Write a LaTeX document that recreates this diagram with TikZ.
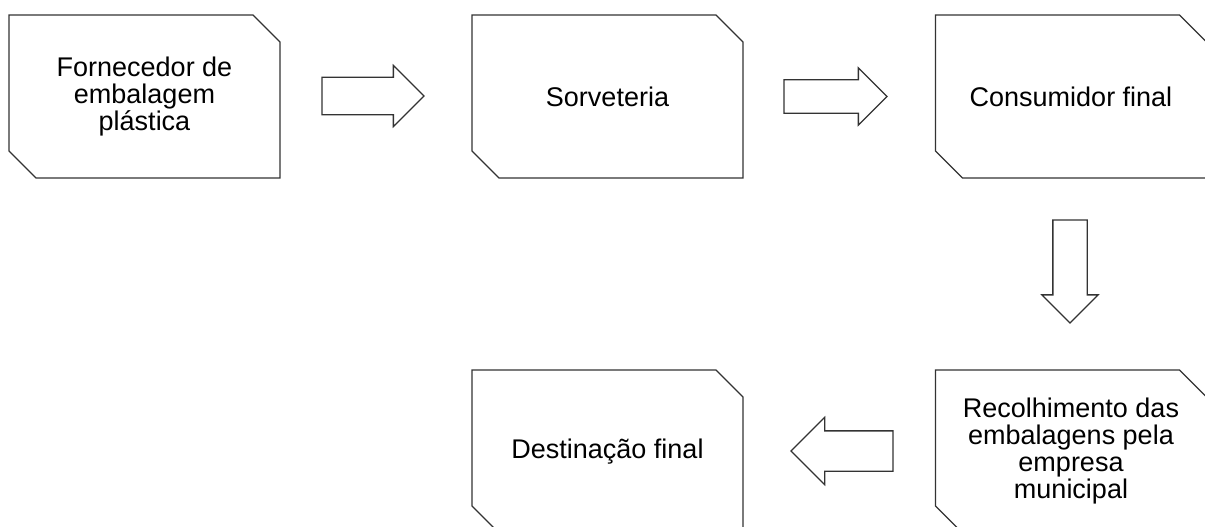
\documentclass[tikz,border=0pt]{standalone}
\usepackage{fontspec}
\setmainfont{Liberation Sans}
\usetikzlibrary{shapes.arrows}
\begin{document}
\begin{tikzpicture}[x=1pt,y=-1pt,
  blk/.style={rectangle, minimum width=271pt, minimum height=163pt, outer sep=0pt,
    inner sep=0pt, align=center, font=\fontsize{27}{27}\selectfont},
  outline/.style={draw=black!80, line width=1.3pt, line join=miter},
  barrow/.style={single arrow, draw=black!80, line width=1.3pt, outer sep=0pt,
    single arrow tip angle=90}]
\useasboundingbox (0,0) rectangle (1205,527);
\node[blk] (forn) at (144.5,96.5) {Fornecedor de\\embalagem\\plástica};
\node[blk] (sorv) at (607.5,96.5) {Sorveteria};
\node[blk] (cons) at (1071,96.5) {Consumidor final};
\node[blk] (recol) at (1071,451.5) {Recolhimento das\\embalagens pela\\empresa\\municipal};
\node[blk] (dest) at (607.5,451.5) {Destinação final};
\foreach \n in {forn,sorv,cons,recol,dest}{
  \draw[outline] (\n.north west) -- ([xshift=-27pt]\n.north east) -- ([yshift=-27pt]\n.north east)
    -- (\n.south east) -- ([xshift=27pt]\n.south west) -- ([yshift=27pt]\n.south west) -- cycle;
}
\node[barrow, minimum height=102pt, inner sep=18pt, single arrow head extend=12pt, anchor=tip] (a1) at (424,96) {};
\node[barrow, minimum height=103pt, inner sep=16pt, single arrow head extend=12pt, anchor=tip] (a2) at (887,96.5) {};
\node[barrow, minimum height=103pt, inner sep=16.5pt, single arrow head extend=11pt, shape border rotate=270, anchor=tip] (a3) at (1070,323) {};
\node[barrow, minimum height=102pt, inner sep=19.5pt, single arrow head extend=13.5pt, shape border rotate=180, anchor=tip] (a4) at (791,451) {};
\end{tikzpicture}
\end{document}
